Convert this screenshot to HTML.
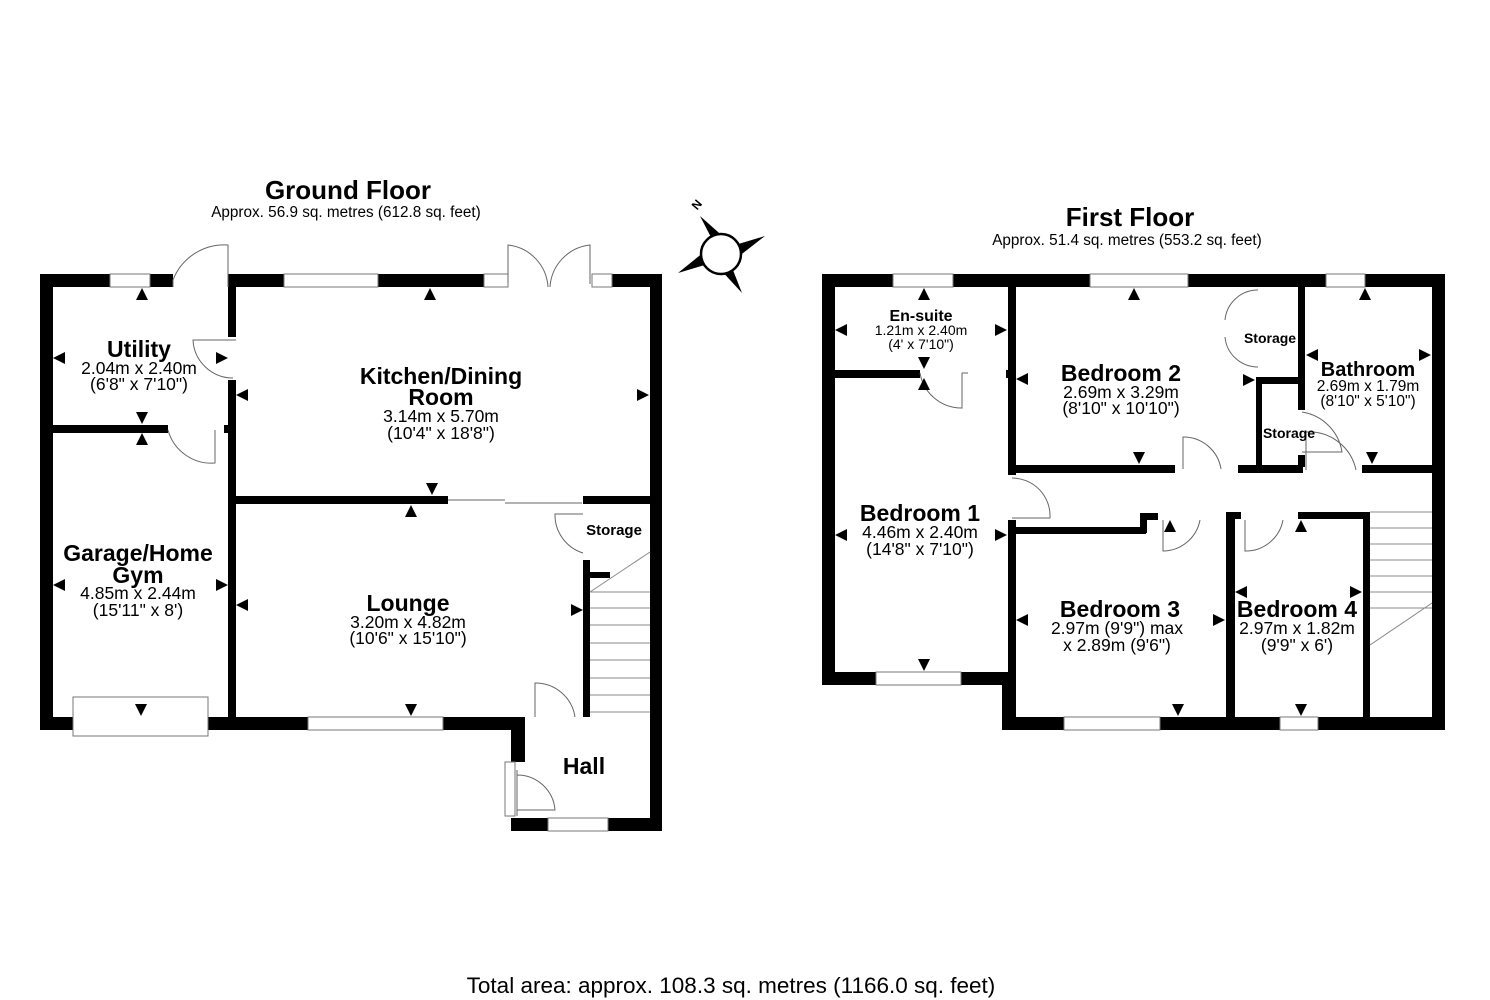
<!DOCTYPE html>
<html><head><meta charset="utf-8"><style>
html,body{margin:0;padding:0;background:#fff;}
svg{display:block;}
text{font-family:"Liberation Sans",Arial,sans-serif;fill:#000;}
.t{font-weight:bold;font-size:23px;}
.d{font-size:17.5px;}
.s{font-size:15px;}
.w{fill:#000;}
.win{fill:#fff;stroke:#777;stroke-width:1;}
.dr{fill:none;stroke:#666;stroke-width:1;}
</style></head><body>
<svg width="1490" height="1000" viewBox="0 0 1490 1000" xmlns="http://www.w3.org/2000/svg">
<!-- Titles -->
<text x="348" y="199" text-anchor="middle" style="font-weight:bold;font-size:26px">Ground Floor</text>
<text x="346" y="217" text-anchor="middle" style="font-size:15.3px">Approx. 56.9 sq. metres (612.8 sq. feet)</text>
<text x="1130" y="226" text-anchor="middle" style="font-weight:bold;font-size:26px">First Floor</text>
<text x="1127" y="245" text-anchor="middle" style="font-size:15.3px">Approx. 51.4 sq. metres (553.2 sq. feet)</text>
<text x="731" y="993" text-anchor="middle" style="font-size:22.5px">Total area: approx. 108.3 sq. metres (1166.0 sq. feet)</text>

<!-- Compass -->
<g>
<polygon points="700,216 727,240 715,245" fill="#000"/>
<polygon points="765,236 738,257 735,245" fill="#000"/>
<polygon points="742,293 719,268 731,265" fill="#000"/>
<polygon points="678,273 704,252 708,264" fill="#000"/>
<circle cx="721" cy="254" r="20" fill="#fff" stroke="#000" stroke-width="2.5"/>
<text x="694" y="212" transform="rotate(-50 694 208)" style="font-weight:bold;font-size:12px">N</text>
</g>

<!-- ============ GROUND FLOOR ============ -->
<g class="w">
<rect x="40" y="274" width="13" height="456"/>
<rect x="40" y="274" width="70" height="13"/>
<rect x="150" y="274" width="23" height="13"/>
<rect x="228" y="274" width="56" height="13"/>
<rect x="378" y="274" width="106" height="13"/>
<rect x="612" y="274" width="50" height="13"/>
<rect x="650" y="274" width="12" height="556"/>
<rect x="40" y="717" width="33" height="13"/>
<rect x="208" y="717" width="100" height="13"/>
<rect x="443" y="717" width="82" height="13"/>
<rect x="511" y="717" width="14" height="45"/>
<rect x="511" y="818" width="37" height="13"/>
<rect x="608" y="818" width="54" height="13"/>
<rect x="228" y="287" width="8" height="50"/>
<rect x="228" y="380" width="8" height="337"/>
<rect x="53" y="425" width="115" height="8"/>
<rect x="224" y="425" width="12" height="8"/>
<rect x="236" y="496" width="212" height="8"/>
<rect x="583" y="496" width="67" height="8"/>
<rect x="583" y="560" width="7" height="157"/>
<rect x="590" y="572" width="20" height="6"/>
</g>
<rect class="win" x="110" y="274" width="40" height="13"/>
<rect class="win" x="284" y="274" width="94" height="13"/>
<rect class="win" x="484" y="274" width="24" height="13"/>
<rect class="win" x="592" y="274" width="20" height="13"/>
<rect class="win" x="73" y="697" width="135" height="39"/>
<rect class="win" x="308" y="717" width="135" height="13"/>
<rect class="win" x="548" y="818" width="60" height="13"/>
<rect class="win" x="505" y="762" width="10" height="54"/>
<path class="dr" d="M173 287 V280 M228 287 V245 A55 55 0 0 0 173 280"/>
<path class="dr" d="M236 340 H193 A40 40 0 0 0 233 378"/>
<path class="dr" d="M168 430 A45 45 0 0 0 215 463 V430"/>
<path class="dr" d="M508 284 V245 A45 45 0 0 1 548 287 M590 284 V245 A45 45 0 0 0 550 287"/>
<path class="dr" d="M448 500 H505 M505 503 H582"/>
<path class="dr" d="M583 514 H555 A40 40 0 0 0 583 553"/>
<path class="dr" d="M535 717 V683 A40 40 0 0 1 575 717"/>
<path class="dr" d="M517 770 V816 M517 775 A38 38 0 0 1 555 810 H517"/>
<g stroke="#888" stroke-width="1" fill="none">
<path d="M590 592 L650 552"/>
<path d="M590 592 H650 M590 608 H650 M590 625 H650 M590 643 H650 M590 660 H650 M590 678 H650 M590 695 H650 M590 712 H650"/>
</g>

<text class="t" x="139" y="357" text-anchor="middle">Utility</text>
<text class="d" x="139" y="374" text-anchor="middle">2.04m x 2.40m</text>
<text class="d" x="139" y="390" text-anchor="middle">(6'8" x 7'10")</text>
<text class="t" x="441" y="384" text-anchor="middle">Kitchen/Dining</text>
<text class="t" x="441" y="405" text-anchor="middle">Room</text>
<text class="d" x="441" y="422" text-anchor="middle">3.14m x 5.70m</text>
<text class="d" x="441" y="439" text-anchor="middle">(10'4" x 18'8")</text>
<text class="t" x="138" y="561" text-anchor="middle">Garage/Home</text>
<text class="t" x="138" y="583" text-anchor="middle">Gym</text>
<text class="d" x="138" y="599" text-anchor="middle">4.85m x 2.44m</text>
<text class="d" x="138" y="616" text-anchor="middle">(15'11" x 8')</text>
<text class="t" x="408" y="611" text-anchor="middle">Lounge</text>
<text class="d" x="408" y="628" text-anchor="middle">3.20m x 4.82m</text>
<text class="d" x="408" y="644" text-anchor="middle">(10'6" x 15'10")</text>
<text class="s" x="614" y="535" text-anchor="middle" style="font-weight:bold">Storage</text>
<text class="t" x="584" y="774" text-anchor="middle">Hall</text>

<g fill="#000">
<polygon points="142,288 136,300 148,300"/>
<polygon points="53,358 65,352 65,364"/>
<polygon points="228,358 216,352 216,364"/>
<polygon points="142,424 136,412 148,412"/>
<polygon points="142,433 136,445 148,445"/>
<polygon points="430,288 424,300 436,300"/>
<polygon points="236,395 248,389 248,401"/>
<polygon points="649,395 637,389 637,401"/>
<polygon points="432,495 426,483 438,483"/>
<polygon points="411,505 405,517 417,517"/>
<polygon points="53,585 65,579 65,591"/>
<polygon points="228,585 216,579 216,591"/>
<polygon points="141,716 135,704 147,704"/>
<polygon points="236,605 248,599 248,611"/>
<polygon points="583,610 571,604 571,616"/>
<polygon points="411,716 405,704 417,704"/>
</g>

<!-- ============ FIRST FLOOR ============ -->
<g class="w">
<rect x="822" y="274" width="13" height="411"/>
<rect x="822" y="274" width="71" height="13"/>
<rect x="953" y="274" width="137" height="13"/>
<rect x="1188" y="274" width="138" height="13"/>
<rect x="1365" y="274" width="80" height="13"/>
<rect x="1432" y="274" width="13" height="456"/>
<rect x="822" y="672" width="54" height="13"/>
<rect x="961" y="672" width="50" height="13"/>
<rect x="1002" y="672" width="14" height="58"/>
<rect x="1002" y="717" width="62" height="13"/>
<rect x="1160" y="717" width="120" height="13"/>
<rect x="1318" y="717" width="127" height="13"/>
<rect x="835" y="370" width="85" height="8"/>
<rect x="1008" y="287" width="8" height="83"/>
<rect x="1006" y="370" width="10" height="8"/>
<rect x="1008" y="378" width="8" height="97"/>
<rect x="1008" y="520" width="8" height="197"/>
<rect x="1008" y="465" width="167" height="8"/>
<rect x="1238" y="465" width="65" height="8"/>
<rect x="1362" y="465" width="72" height="8"/>
<rect x="1256" y="377" width="6" height="95"/>
<rect x="1260" y="377" width="42" height="7"/>
<rect x="1298" y="287" width="7" height="123"/>
<rect x="1298" y="455" width="7" height="12"/>
<rect x="1016" y="527" width="130" height="7"/>
<rect x="1140" y="513" width="7" height="20"/>
<rect x="1140" y="513" width="18" height="7"/>
<rect x="1226" y="512" width="9" height="205"/>
<rect x="1226" y="512" width="15" height="7"/>
<rect x="1298" y="512" width="72" height="7"/>
<rect x="1363" y="512" width="7" height="205"/>
</g>
<rect class="win" x="893" y="274" width="60" height="13"/>
<rect class="win" x="1090" y="274" width="98" height="13"/>
<rect class="win" x="1326" y="274" width="39" height="13"/>
<rect class="win" x="876" y="672" width="85" height="13"/>
<rect class="win" x="1064" y="717" width="96" height="13"/>
<rect class="win" x="1280" y="717" width="38" height="13"/>
<path class="dr" d="M920 373 A42 42 0 0 0 962 408 V373 M962 373 H968"/>
<path class="dr" d="M1012 478 A38 38 0 0 1 1050 518 H1012"/>
<path class="dr" d="M1183 469 V437 A38 38 0 0 1 1221 469"/>
<path class="dr" d="M1258 290 A33 33 0 0 0 1225 320 M1258 367 A33 33 0 0 1 1225 337"/>
<path class="dr" d="M1302 412 A48 48 0 0 1 1342 452 H1302"/>
<path class="dr" d="M1306 432 A48 48 0 0 1 1356 470 M1306 432 V470"/>
<path class="dr" d="M1163 520 V551 A38 38 0 0 0 1200 520"/>
<path class="dr" d="M1245 520 V551 A38 38 0 0 0 1283 520"/>
<g stroke="#888" stroke-width="1" fill="none">
<path d="M1370 512 H1432 M1370 528 H1432 M1370 544 H1432 M1370 560 H1432 M1370 576 H1432 M1370 592 H1432 M1370 608 H1432"/>
<path d="M1370 645 L1432 603"/>
</g>

<text x="921" y="321" text-anchor="middle" style="font-weight:bold;font-size:16px">En-suite</text>
<text class="s" x="921" y="335" text-anchor="middle" style="font-size:14px">1.21m x 2.40m</text>
<text class="s" x="921" y="349" text-anchor="middle" style="font-size:14px">(4' x 7'10")</text>
<text class="t" x="1121" y="381" text-anchor="middle">Bedroom 2</text>
<text class="d" x="1121" y="398" text-anchor="middle">2.69m x 3.29m</text>
<text class="d" x="1121" y="414" text-anchor="middle">(8'10" x 10'10")</text>
<text class="s" x="1270" y="343" text-anchor="middle" style="font-weight:bold;font-size:14px">Storage</text>
<text class="s" x="1289" y="438" text-anchor="middle" style="font-weight:bold;font-size:14px">Storage</text>
<text x="1368" y="376" text-anchor="middle" style="font-weight:bold;font-size:20px">Bathroom</text>
<text x="1368" y="391" text-anchor="middle" style="font-size:15.5px">2.69m x 1.79m</text>
<text x="1368" y="406" text-anchor="middle" style="font-size:15.5px">(8'10" x 5'10")</text>
<text class="t" x="920" y="521" text-anchor="middle">Bedroom 1</text>
<text class="d" x="920" y="538" text-anchor="middle">4.46m x 2.40m</text>
<text class="d" x="920" y="555" text-anchor="middle">(14'8" x 7'10")</text>
<text class="t" x="1120" y="617" text-anchor="middle">Bedroom 3</text>
<text class="d" x="1117" y="634" text-anchor="middle">2.97m (9'9") max</text>
<text class="d" x="1117" y="651" text-anchor="middle">x 2.89m (9'6")</text>
<text class="t" x="1297" y="617" text-anchor="middle">Bedroom 4</text>
<text class="d" x="1297" y="634" text-anchor="middle">2.97m x 1.82m</text>
<text class="d" x="1297" y="651" text-anchor="middle">(9'9" x 6')</text>

<g fill="#000">
<polygon points="924,288 918,300 930,300"/>
<polygon points="835,330 847,324 847,336"/>
<polygon points="1007,330 995,324 995,336"/>
<polygon points="924,369 918,357 930,357"/>
<polygon points="924,378 918,390 930,390"/>
<polygon points="1134,288 1128,300 1140,300"/>
<polygon points="1016,379 1028,373 1028,385"/>
<polygon points="1255,380 1243,374 1243,386"/>
<polygon points="1139,464 1133,452 1145,452"/>
<polygon points="1365,288 1359,300 1371,300"/>
<polygon points="1306,355 1318,349 1318,361"/>
<polygon points="1431,355 1419,349 1419,361"/>
<polygon points="1372,464 1366,452 1378,452"/>
<polygon points="835,535 847,529 847,541"/>
<polygon points="1007,535 995,529 995,541"/>
<polygon points="924,671 918,659 930,659"/>
<polygon points="1170,520 1164,532 1176,532"/>
<polygon points="1016,620 1028,614 1028,626"/>
<polygon points="1225,620 1213,614 1213,626"/>
<polygon points="1178,716 1172,704 1184,704"/>
<polygon points="1301,520 1295,532 1307,532"/>
<polygon points="1235,592 1247,586 1247,598"/>
<polygon points="1362,592 1350,586 1350,598"/>
<polygon points="1301,716 1295,704 1307,704"/>
</g>
</svg>
</body></html>
